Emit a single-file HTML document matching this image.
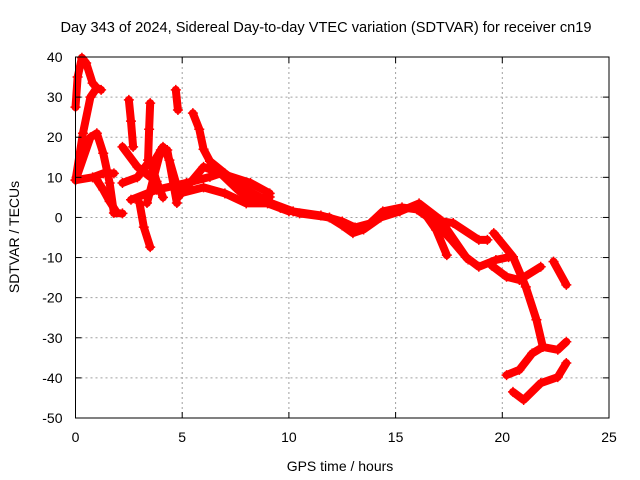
<!DOCTYPE html>
<html><head><meta charset="utf-8"><style>
html,body{margin:0;padding:0;background:#fff}
svg{display:block;font-family:"Liberation Sans",sans-serif}
</style></head><body>
<svg id="chart" width="640" height="480" viewBox="0 0 640 480" xmlns="http://www.w3.org/2000/svg">
<rect width="640" height="480" fill="#fff"/>
<text x="326" y="32" font-size="14.6" text-anchor="middle">Day 343 of 2024, Sidereal Day-to-day VTEC variation (SDTVAR) for receiver cn19</text>
<text transform="translate(19,237) rotate(-90)" font-size="14" text-anchor="middle">SDTVAR / TECUs</text>
<text x="340" y="471" font-size="14" text-anchor="middle">GPS time / hours</text>
<g id="grid"></g>
<g id="series"></g>
<g id="axes"></g>
</svg>
<script>
const xTicks=[0,5,10,15,20,25];
const yTicks=[40,30,20,10,0,-10,-20,-30,-40,-50];
const trackTop=[[0,27.5],[0.1,35],[0.3,39.8],[0.5,38.5],[0.8,33.5],[1.0,32.3],[1.2,31.8]];
const trackRise=[[0,9.3],[0.35,21],[0.7,30],[1.0,32.3]];
const trackPeak=[[0.05,10],[0.7,20],[1.0,21],[1.3,16],[1.6,8.6],[1.8,1.1],[2.2,1]];
const trackFlat=[[0,9.3],[0.8,10],[1.3,11],[1.8,11]];
const trackLow=[[1.0,9.3],[1.3,6.9],[1.6,4],[1.9,1.5]];
const trackMid=[[2.2,17.6],[2.9,12.6],[3.5,10.1],[3.8,15],[4.1,17.6],[4.4,14.3],[4.8,6.9]];
const trackMid2=[[2.2,8.6],[2.9,10],[3.5,14.3],[3.8,9],[4.1,5]];
const trackDrop=[[3.0,3.6],[3.2,-2.4],[3.5,-7.4]];
const trackHump=[[3.35,3.6],[4.0,16.8],[4.3,16.8],[4.75,3.6]];
const trackCol1=[[2.5,29.3],[2.6,24],[2.7,17.6]];
const trackCol2=[[3.5,28.5],[3.45,22],[3.4,14.3]];
const trackCol3=[[4.7,31.8],[4.8,26.8]];
const trackBand1=[[2.6,4.4],[3.8,6.9],[5.2,8.6],[6.3,10.1],[6.8,11],[7.6,6.9],[8.2,4.4],[9.1,5.1]];
const trackBand2=[[4.8,5],[6.0,12.6],[6.8,11],[8.2,8.6],[9.1,6]];
const trackBand3=[[4.9,6],[6.0,7.5],[7.0,6],[8.0,3.5],[9.0,3.5],[10,1.5]];
const trackMain=[[5.5,26],[5.8,22],[6.0,17],[6.3,14],[7.0,11],[7.5,9],[8.0,7],[9.0,4],[9.6,2.4],[10.5,1],[11.9,0],[12.5,-2],[13.0,-3.9],[13.5,-3],[14.3,0],[15.2,1.5],[16.1,3.5],[17.1,-0.6],[18.3,-9.9],[18.9,-12.3],[19.7,-10.6],[20.3,-9.9]];
const trackMain2=[[9.2,3.5],[10.2,1.5],[11.5,0.5],[12.5,-1],[13.1,-2.5],[13.8,-1.5],[14.4,1.5],[15.3,2.5],[16.0,2],[16.8,-1],[17.6,-5.5],[18.4,-10.5]];
const trackSide1=[[16.1,3],[16.9,-3.1],[17.4,-9.4]];
const trackSide2=[[17.2,-1],[17.7,-1.4],[18.9,-5.6],[19.3,-5.6]];
const trackFall=[[19.6,-3.9],[20.5,-9.8],[21.1,-17.3],[21.6,-25.5],[21.9,-32.3],[22.6,-33],[23.0,-31]];
const trackBranch=[[19.5,-12],[20.2,-14.8],[20.8,-15.6],[21.8,-12.3]];
const trackRight=[[22.4,-11],[23.0,-16.8]];
const trackLower=[[20.2,-39.3],[20.8,-38],[21.4,-33.9],[21.9,-32.3]];
const trackLowest=[[20.5,-43.5],[21.0,-45.5],[21.8,-41.3],[22.6,-39.8],[23.0,-36.3]];
const tracks=[trackTop,trackRise,trackPeak,trackFlat,trackLow,trackMid,trackMid2,trackDrop,trackHump,trackCol1,trackCol2,trackCol3,trackBand1,trackBand2,trackBand3,trackMain,trackMain2,trackSide1,trackSide2,trackFall,trackBranch,trackRight,trackLower,trackLowest];

const X0=75.5,X1=609,Y0=418,Y1=57;
function sx(v){return X0+(v-0)/(25-0)*(X1-X0);}
function sy(v){return Y0-(v+50)/(40+50)*(Y0-Y1);}
const NS='http://www.w3.org/2000/svg';
function mk(tag,attrs,parent){const e=document.createElementNS(NS,tag);for(const k in attrs)e.setAttribute(k,attrs[k]);parent.appendChild(e);return e;}
const grid=document.getElementById('grid'),axes=document.getElementById('axes'),ser=document.getElementById('series');
xTicks.forEach(t=>{
  const x=sx(t);
  if(t>0&&t<25){const g=mk('line',{x1:x,x2:x,y1:Y1,y2:Y0,stroke:'#a0a0a0','stroke-dasharray':'2,3'},grid);
  
  }
  mk('line',{x1:x,x2:x,y1:Y0,y2:Y0-6,stroke:'#000'},axes);
  mk('line',{x1:x,x2:x,y1:Y1,y2:Y1+6,stroke:'#000'},axes);
  const l=mk('text',{x:x,y:Y0+24,'font-size':'14','text-anchor':'middle'},axes);
  l.textContent=t;
  
  
});
yTicks.forEach(t=>{
  const y=sy(t);
  if(t<40&&t>-50){const g=mk('line',{x1:X0,x2:X1,y1:y,y2:y,stroke:'#a0a0a0','stroke-dasharray':'2,3'},grid);
  
  }
  mk('line',{x1:X0,x2:X0+6,y1:y,y2:y,stroke:'#000'},axes);
  mk('line',{x1:X1,x2:X1-6,y1:y,y2:y,stroke:'#000'},axes);
  const l=mk('text',{x:X0-13,y:y+5,'font-size':'14','text-anchor':'end'},axes);
  l.textContent=t;
  
  
});
const frame=mk('rect',{x:X0,y:Y1,width:X1-X0,height:Y0-Y1,fill:'none',stroke:'#000'},axes);


tracks.forEach(tr=>{
  const pts=tr.map(p=>sx(p[0])+','+sy(p[1])).join(' ');
  const pl=mk('polyline',{points:pts,fill:'none',stroke:'#f00','stroke-width':8,'stroke-linejoin':'round','stroke-linecap':'round'},ser);
  
  
  tr.forEach(p=>{
    const x=sx(p[0]),y=sy(p[1]);
    const m=mk('path',{d:`M${x-5},${y}H${x+5}M${x},${y-5}V${y+5}`,stroke:'#f00','stroke-width':1.5},ser);
    
    
  });
});
</script>
</body></html>
